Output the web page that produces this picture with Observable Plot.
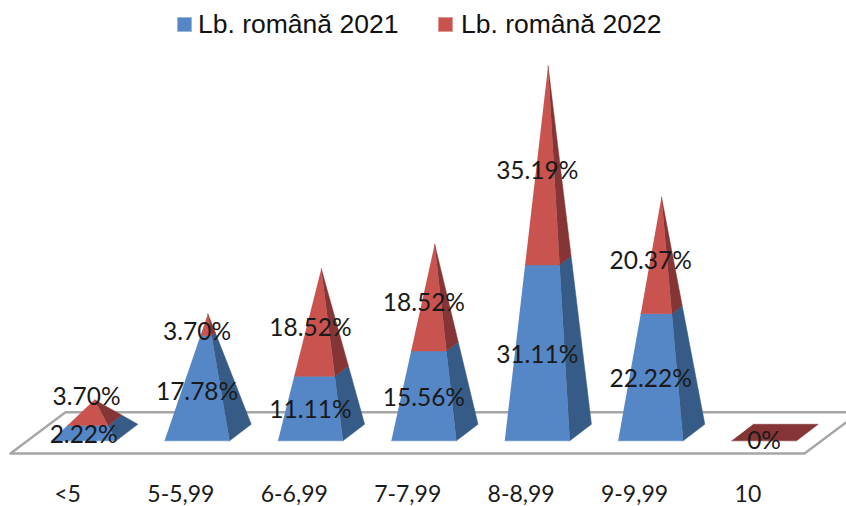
<!DOCTYPE html>
<html>
<head>
<meta charset="utf-8">
<script src="https://cdn.jsdelivr.net/npm/d3@7"></script>
<script src="https://cdn.jsdelivr.net/npm/@observablehq/plot@0.6"></script>
<style>
  html, body { margin: 0; padding: 0; background: #fff; }
  #chart { width: 846px; overflow: hidden; }
  .legend { position: relative; height: 50px; font: 26.5px "Liberation Sans", Arial, sans-serif; color: #111; }
  .legend i { position: absolute; top: 17px; width: 15px; height: 15px; box-sizing: border-box; border: 1px solid #ffffff66; }
  .legend span { position: absolute; top: 10px; line-height: 28px; white-space: nowrap; }
  svg text { fill: #1a1a1a; }
</style>
</head>
<body>
<div id="chart"></div>
<script>
// Grade bands and the share of pupils in each, for the two exam years.
const categories = ["<5", "5-5,99", "6-6,99", "7-7,99", "8-8,99", "9-9,99", "10"];
const lb2021 = [2.22, 17.78, 11.11, 15.56, 31.11, 22.22, 0];
const lb2022 = [3.70, 3.70, 18.52, 18.52, 35.19, 20.37, 0];
const seriesNames = ["Lb. română 2021", "Lb. română 2022"];

const shades = {
  front2021: "#5586c6",
  side2021: "#355b86",
  front2022: "#c9544f",
  side2022: "#853535"
};

// Oblique projection of a square pyramid base, in data units:
// half the base width along x, half the depth shift along x and along y.
const halfWidth = 0.2866;
const depthX = 0.0955;
const depthY = 1.5;

// Points of a pyramid edge climbing from a base corner towards the apex.
const onEdge = (corner, apex, t) => ({
  x: corner.x + (apex.x - corner.x) * t,
  y: corner.y + (apex.y - corner.y) * t
});

const faces = [];
function addFace(id, shade, pts) {
  for (const p of pts) faces.push({id, shade, x: p.x, y: p.y});
}

categories.forEach((_, i) => {
  const total = lb2021[i] + lb2022[i];
  const frontLeft = {x: i - halfWidth - depthX, y: -depthY};
  const frontRight = {x: i + halfWidth - depthX, y: -depthY};
  const backRight = {x: i + halfWidth + depthX, y: depthY};
  const backLeft = {x: i - halfWidth + depthX, y: depthY};
  const apex = {x: i, y: total};

  // A band with no pupils collapses to its flat base.
  if (total === 0) {
    addFace(`base-${i}`, "side2022", [frontLeft, frontRight, backRight, backLeft]);
    return;
  }
  const split = lb2021[i] / total;
  const segments = [
    {year: "2021", from: 0, to: split},
    {year: "2022", from: split, to: 1}
  ];
  for (const {year, from, to} of segments) {
    addFace(`front-${i}-${year}`, `front${year}`, [
      onEdge(frontLeft, apex, from), onEdge(frontRight, apex, from),
      onEdge(frontRight, apex, to), onEdge(frontLeft, apex, to)
    ]);
    addFace(`side-${i}-${year}`, `side${year}`, [
      onEdge(frontRight, apex, from), onEdge(backRight, apex, from),
      onEdge(backRight, apex, to), onEdge(frontRight, apex, to)
    ]);
  }
});

// The floor the pyramids stand on.
const floor = [
  {x: -0.741, y: -3.79},
  {x: 6.261, y: -3.79},
  {x: 6.746, y: 3.67},
  {x: -0.256, y: 3.67},
  {x: -0.741, y: -3.79}
];

// Value labels sit on the front face, halfway up their own segment.
const fmt = (v) => v === 0 ? "0%" : `${v.toFixed(2)}%`;
const labels = [];
categories.forEach((_, i) => {
  if (lb2021[i] + lb2022[i] === 0) {
    labels.push({x: i - depthX, y: -depthY, text: fmt(0)});
    return;
  }
  labels.push({x: i - depthX, y: lb2021[i] / 2 - depthY, text: fmt(lb2021[i])});
  // The label of the lowest 2022 segment is lifted clear of the one beneath it.
  const lifted = i === 0;
  labels.push({
    x: i - depthX + (lifted ? 0.025 : 0),
    y: lb2021[i] + lb2022[i] / 2 - depthY + (lifted ? 3.76 : 0),
    text: fmt(lb2022[i])
  });
});

const legend = document.createElement("div");
legend.className = "legend";
legend.innerHTML = `
  <i style="left:177px;background:${shades.front2021}"></i><span style="left:198px">${seriesNames[0]}</span>
  <i style="left:438px;background:${shades.front2022}"></i><span style="left:461px">${seriesNames[1]}</span>`;

const plot = Plot.plot({
  width: 846,
  height: 456,
  marginTop: 0,
  marginRight: 0,
  marginBottom: 20,
  marginLeft: 0,
  style: {fontFamily: "Lato, sans-serif", background: "#fff", overflow: "hidden"},
  x: {domain: [-94 / 113.4, 752 / 113.4], axis: null},
  y: {domain: [-54 / 5.535, 382.4 / 5.535], axis: null},
  color: {domain: Object.keys(shades), range: Object.values(shades)},
  marks: [
    Plot.line(floor, {x: "x", y: "y", stroke: "#a6a6a6", strokeWidth: 2.4, fill: "#fff", strokeLinejoin: "miter"}),
    Plot.line(faces, {x: "x", y: "y", z: "id", fill: "shade", stroke: "shade", strokeWidth: 0.5}),
    Plot.text(labels, {x: "x", y: "y", text: "text", fontSize: 24.5, textAnchor: "middle"}),
    Plot.axisX({
      ticks: d3.range(categories.length),
      tickFormat: (i) => categories[i],
      tickSize: 0,
      tickPadding: -1,
      dx: -27,
      fontSize: 23,
      label: null
    })
  ]
});

const chart = document.getElementById("chart");
chart.append(legend, plot);
</script>
</body>
</html>
